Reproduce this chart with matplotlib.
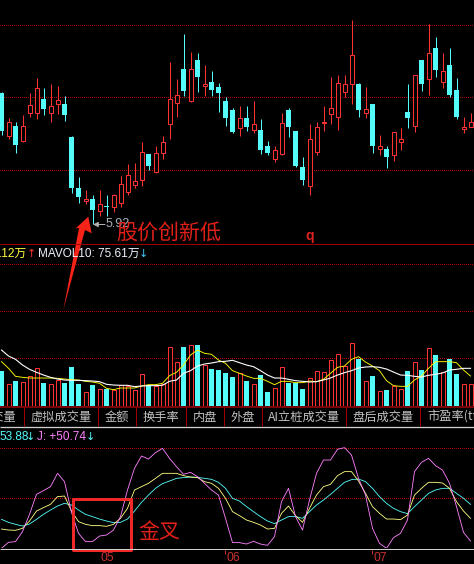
import matplotlib
matplotlib.use("Agg")
import matplotlib.pyplot as plt
from matplotlib.patches import Polygon, Rectangle
import numpy as np

W, H = 474, 564
PX = 0.72  # one pixel in points at dpi 100

RED = "#ff3232"
CYAN = "#54fcfc"
GRID = "#b00000"
BORDER = "#a00000"
FONT = ["Liberation Sans", "Noto Sans CJK SC", "DejaVu Sans"]
CJK = ["Noto Sans CJK SC", "DejaVu Sans"]

# daily prices
opens = [8.54, 7.68, 7.88, 7.58, 8.14, 8.14, 8.42, 8.14, 8.32, 8.32, 7.66, 6.64, 6.38, 6.42, 6.18, 6.28, 6.26,
         6.34, 6.56, 6.70, 6.80, 7.32, 6.96, 7.34, 7.92, 8.34, 9.02, 8.38, 9.20, 8.68, 8.76, 8.66, 8.38, 8.20,
         7.84, 8.04, 7.80, 7.80, 7.48, 7.22, 7.32, 8.20, 7.78, 7.06, 6.68, 7.36, 7.94, 8.12, 8.06, 8.56, 8.72,
         8.72, 8.14, 8.32, 7.42, 7.42, 7.30, 7.56, 8.16, 7.88, 9.20, 8.82, 9.44, 8.76, 9.10, 8.60, 7.82, 7.86]
closes = [7.78, 7.96, 7.50, 7.88, 8.30, 8.64, 8.22, 8.28, 8.40, 8.10, 6.64, 6.46, 6.42, 6.20, 6.32, 6.26, 6.50,
          6.72, 6.90, 6.78, 7.36, 7.08, 7.34, 7.56, 8.42, 8.50, 8.58, 9.02, 8.86, 8.72, 8.60, 8.54, 8.04, 7.76,
          8.04, 7.86, 7.92, 7.40, 7.34, 7.40, 7.94, 7.86, 7.08, 6.80, 7.62, 7.86, 7.96, 8.24, 8.74, 8.72, 9.30,
          8.20, 8.22, 7.48, 7.48, 7.26, 7.76, 7.62, 8.04, 8.90, 8.72, 9.34, 9.00, 8.98, 8.50, 8.06, 7.86, 7.96]
highs = [8.56, 8.04, 7.96, 8.10, 8.54, 8.84, 8.64, 8.72, 8.68, 8.48, 7.68, 6.86, 6.60, 6.50, 6.60, 6.50, 6.52,
         6.88, 7.12, 7.14, 7.56, 7.32, 7.48, 7.68, 9.16, 8.82, 9.72, 9.36, 9.34, 9.10, 8.98, 8.74, 8.46, 8.24,
         8.28, 8.28, 8.38, 8.02, 7.58, 7.48, 8.14, 8.24, 7.78, 7.26, 7.92, 7.96, 8.28, 8.86, 8.90, 8.90, 10.00,
         8.74, 8.66, 8.32, 7.70, 7.48, 7.76, 7.84, 8.72, 8.90, 9.20, 9.92, 9.66, 9.34, 9.44, 8.84, 8.06, 8.14]
lows = [7.70, 7.62, 7.34, 7.56, 8.06, 8.02, 8.10, 7.96, 8.12, 7.98, 6.54, 6.34, 6.32, 5.92, 6.08, 6.08, 6.16,
        6.26, 6.50, 6.64, 6.68, 7.00, 6.94, 7.22, 7.62, 8.06, 8.48, 8.36, 8.56, 8.48, 8.48, 8.16, 7.88, 7.74,
        7.68, 7.78, 7.74, 7.32, 7.30, 7.16, 7.30, 7.66, 7.06, 6.70, 6.50, 7.30, 7.78, 7.92, 7.80, 8.46, 8.32,
        8.06, 8.04, 7.34, 7.30, 7.04, 7.18, 7.40, 7.84, 7.76, 8.58, 8.50, 8.86, 8.64, 8.46, 8.02, 7.74, 7.86]

# volume in 万
volume = [69.3, 42.7, 49.3, 46.7, 58.7, 74.7, 45.3, 42.7, 50.7, 45.3, 77.3, 43.3, 26.7, 41.3, 32.7, 33.3, 30.7,
          40.7, 40.0, 30.7, 62.7, 41.3, 38.7, 44.0, 116.7, 86.7, 117.3, 120.7, 121.3, 81.3, 73.3, 71.3, 65.3, 57.3,
          64.7, 49.3, 42.7, 61.3, 27.3, 34.7, 76.7, 45.3, 45.3, 33.3, 54.7, 68.7, 66.7, 90.7, 102.7, 79.3, 124.7,
          93.3, 48.7, 59.3, 28.7, 31.3, 38.7, 32.7, 69.3, 86.7, 71.3, 114.7, 101.3, 66.7, 93.3, 63.3, 42.7, 42.7]
mavol5 = [88.0, 74.7, 58.7, 56.7, 55.3, 55.3, 55.3, 55.3, 54.7, 53.3, 52.0, 51.3, 48.7, 47.3, 44.7, 34.7, 32.0,
          35.3, 35.3, 35.3, 39.3, 42.0, 42.0, 44.7, 60.0, 66.7, 81.3, 101.3, 111.3, 104.7, 102.7, 91.3, 84.7, 70.0,
          64.7, 59.3, 54.7, 54.7, 48.7, 42.0, 48.7, 48.7, 46.0, 46.0, 49.3, 48.0, 52.7, 64.7, 76.7, 79.3, 92.7,
          98.0, 87.3, 79.3, 70.0, 50.0, 40.0, 38.7, 38.7, 51.3, 59.3, 74.7, 88.0, 88.0, 88.0, 86.0, 71.3, 59.3]
mavol10 = [111.3, 99.3, 92.7, 81.3, 72.7, 66.7, 61.3, 56.7, 53.3, 51.3, 50.7, 50.7, 50.0, 49.3, 48.0, 42.7, 41.3,
           40.7, 40.7, 38.0, 39.3, 40.0, 40.0, 40.7, 48.7, 51.3, 64.7, 70.0, 79.3, 83.3, 85.3, 88.0, 88.7, 90.7,
           86.0, 81.3, 78.0, 70.0, 61.3, 55.3, 55.3, 52.7, 50.0, 48.7, 47.3, 48.0, 51.3, 55.3, 61.3, 66.0, 70.0,
           75.3, 77.3, 78.0, 76.7, 73.3, 67.3, 61.3, 60.7, 58.7, 57.3, 60.7, 62.7, 65.3, 71.3, 72.7, 74.7, 74.7]

# KDJ
k_line = [19.3, 18.3, 18.0, 20.0, 27.3, 37.3, 40.7, 44.0, 51.7, 52.3, 37.3, 26.7, 24.0, 22.7, 22.7, 22.0, 24.0,
          30.0, 40.0, 58.3, 61.7, 65.0, 70.0, 75.0, 75.0, 75.0, 72.7, 71.3, 70.7, 66.7, 65.0, 60.0, 50.0, 36.7,
          32.7, 28.3, 26.0, 23.3, 19.3, 20.0, 35.0, 42.3, 32.7, 26.0, 40.0, 53.3, 61.7, 64.0, 72.7, 76.7, 76.7,
          67.3, 55.0, 41.7, 35.0, 29.3, 29.3, 28.7, 33.3, 53.3, 60.0, 66.0, 66.0, 65.3, 60.0, 46.7, 37.3, 30.0]
d_line = [29.0, 26.0, 24.0, 22.3, 24.3, 29.0, 34.0, 38.3, 42.3, 45.0, 43.3, 38.3, 34.0, 31.7, 29.3, 27.3, 25.7,
          26.0, 29.3, 37.3, 46.0, 53.3, 60.0, 64.7, 67.3, 70.0, 70.7, 71.3, 71.0, 70.0, 69.0, 66.0, 60.0, 50.0,
          47.3, 41.7, 36.7, 31.7, 27.3, 24.7, 28.3, 31.7, 31.7, 30.0, 36.7, 43.3, 48.3, 54.0, 60.0, 66.0, 68.7,
          69.3, 66.7, 60.0, 51.7, 45.0, 40.0, 36.7, 34.7, 41.7, 48.3, 55.0, 58.3, 60.0, 60.0, 55.0, 50.0, 44.0]
j_line = [0.0, 6.0, 6.7, 16.7, 34.0, 54.0, 57.7, 61.7, 75.0, 66.7, 36.0, 15.0, 6.7, 6.7, 12.3, 13.3, 18.3,
          31.7, 58.3, 80.0, 92.3, 89.3, 95.7, 100.0, 90.0, 81.7, 74.0, 76.0, 71.7, 65.0, 58.3, 53.3, 30.0, 5.7,
          5.7, 4.3, 7.0, 4.3, 3.0, 11.7, 46.7, 60.0, 31.7, 18.3, 48.3, 75.0, 88.3, 88.3, 99.0, 100.7, 93.3,
          70.0, 53.3, 20.0, 5.0, 0.0, 10.7, 15.0, 28.3, 76.7, 86.0, 90.0, 82.7, 78.3, 65.0, 41.7, 16.0, 7.3]

price_grid = [9.893, 8.453, 6.993]
volume_grid = [282.7, 188.7, 94.7]
kdj_grid = [100, 50]

tab_labels = ["成交量", "虚拟成交量", "金额", "换手率", "内盘", "外盘", "AI立桩成交量", "盘后成交量", "市盈率(ttm)"]
month_labels = ["05", "06", "07"]

days = np.arange(len(closes))
opens, closes, highs, lows = map(np.array, (opens, closes, highs, lows))
up = closes >= opens


def panel(top, bottom, ymin, ymax):
    # axes placed by pixel rows, one bar every 7 pixels
    ax = fig.add_axes([0, 1 - bottom / H, 1, (bottom - top) / H])
    ax.set_xlim(-1.5 / 7, (W - 1.5) / 7)
    ax.set_ylim(ymin, ymax)
    ax.axis("off")
    return ax


def grid(ax, levels):
    ax.hlines(levels, *ax.get_xlim(), colors=GRID, linewidth=PX, linestyles=(0, (1, 2)), antialiased=False,
              zorder=0)


def bars(ax, bottoms, tops):
    # up bars are hollow, down bars are solid
    bottoms, tops = np.asarray(bottoms), np.asarray(tops)
    ax.bar(days[up], tops[up] - bottoms[up], bottom=bottoms[up], width=4 / 7, facecolor="black",
           edgecolor=RED, linewidth=PX, zorder=2)
    ax.bar(days[~up], tops[~up] - bottoms[~up], bottom=bottoms[~up], width=5 / 7, facecolor=CYAN,
           edgecolor="none", linewidth=0, zorder=2)


fig = plt.figure(figsize=(W / 100, H / 100), dpi=100, facecolor="black")

# price panel
ax_price = panel(0, 243.33, 5.533, 10.40)
grid(ax_price, price_grid)
ax_price.vlines(days, lows, highs, colors=[RED if u else CYAN for u in up], linewidth=PX, zorder=1)
bars(ax_price, np.minimum(opens, closes), np.maximum(opens, closes))

# volume panel
ax_vol = panel(243.33, 405.67, 0, 324.7)
grid(ax_vol, volume_grid)
bars(ax_vol, np.zeros(len(days)), volume)
ax_vol.plot(days, mavol5, color="#ffff00", linewidth=0.9 * PX, zorder=3)
ax_vol.plot(days, mavol10, color="white", linewidth=1.1 * PX, zorder=3)

# KDJ panel
ax_kdj = panel(427, 548.33, 0, 121.33)
grid(ax_kdj, kdj_grid)
ax_kdj.plot(days, d_line, color=CYAN, linewidth=0.85 * PX, zorder=3)
ax_kdj.plot(days, k_line, color="#ffff80", linewidth=0.85 * PX, zorder=3)
ax_kdj.plot(days, j_line, color="#ff80ff", linewidth=0.85 * PX, zorder=3)

# pixel overlay for frame, tabs, labels and drawn marks
ov = fig.add_axes([0, 0, 1, 1], zorder=10)
ov.set_xlim(0, W)
ov.set_ylim(H, 0)
ov.axis("off")
ov.patch.set_alpha(0)

ov.hlines(243.5, 0, W, colors=BORDER, linewidth=PX)
ov.hlines(406.5, 0, W, colors=BORDER, linewidth=1.5 * PX)
ov.hlines(427, 0, W, colors="#d0d0d0", linewidth=1.3 * PX)
ov.hlines(548.5, 0, W, colors="#d0d0d0", linewidth=PX)
ov.vlines([24.5, 98.5, 136.5, 186.5, 224.5, 262.5, 346.5, 420.5], 407, 426, colors=BORDER, linewidth=PX)

tab_x = [-2, 61, 117, 160.5, 205, 243, 304, 383, 427]
for i, (label, x) in enumerate(zip(tab_labels, tab_x)):
    ha = "left" if i == len(tab_labels) - 1 else "center"
    ov.text(x, 417, label, color="#c0c0c0", fontsize=8.8, family=CJK, ha=ha, va="center")

# indicator legends
ov.text(-1, 254, ".12万", color="#ffff40", fontsize=8.5, family=FONT, va="center")
ov.text(31, 254, "↑", color=RED, fontsize=8, family=["DejaVu Sans"], ha="center", va="center")
ov.text(38, 254, "MAVOL10: 75.61万", color="#f0f4ff", fontsize=8.5, family=FONT, va="center")
ov.text(143.5, 254, "↓", color="#40c8ff", fontsize=8, family=["DejaVu Sans"], ha="center", va="center")
ov.text(-1, 437, "53.88", color=CYAN, fontsize=8.5, family=FONT, va="center")
ov.text(30, 437, "↓", color=CYAN, fontsize=8, family=["DejaVu Sans"], ha="center", va="center")
ov.text(37, 437, "J: +50.74", color="#ff80ff", fontsize=8.5, family=FONT, va="center")
ov.text(90, 437, "↓", color=CYAN, fontsize=8, family=["DejaVu Sans"], ha="center", va="center")

# low price marker
ov.annotate("", xy=(93, 224.5), xytext=(105, 224.5),
            arrowprops=dict(arrowstyle="-|>,head_width=0.15,head_length=0.3", color="#b0b0b0", lw=PX,
                            shrinkA=0, shrinkB=0))
ov.text(106, 224, "5.92", color="#a8b0b8", fontsize=9, family=FONT, va="center")
ov.text(309.5, 236, "q", color="#e02020", fontsize=10, fontweight="bold", family=FONT, ha="center", va="center")

# month labels, the 05 tick sits under the note box in the picture
for label, x in zip(month_labels, [107, 233, 380]):
    ov.text(x, 558, label, color="#c83232", fontsize=8.7, family=FONT, ha="center", va="center")
ov.vlines([225.5, 372.5], 550, 554, colors="#c83232", linewidth=PX)

# hand drawn notes
arrow = Polygon([(88.3, 216.7), (91.7, 233.3), (85, 230), (63.3, 310), (79, 228), (75.7, 228.3)],
                closed=True, facecolor="#f52318", edgecolor="none")
ov.add_patch(arrow)
ov.text(169, 233, "股价创新低", color="#e02018", fontsize=15.1, family=CJK, ha="center", va="center")
ov.add_patch(Rectangle((73, 499), 58, 51, fill=False, edgecolor="#f02828", linewidth=3 * PX,
                       joinstyle="round"))
ov.text(159, 531.5, "金叉", color="#e02018", fontsize=15.1, family=CJK, ha="center", va="center")

fig.savefig("out.png", dpi=100, facecolor="black")
